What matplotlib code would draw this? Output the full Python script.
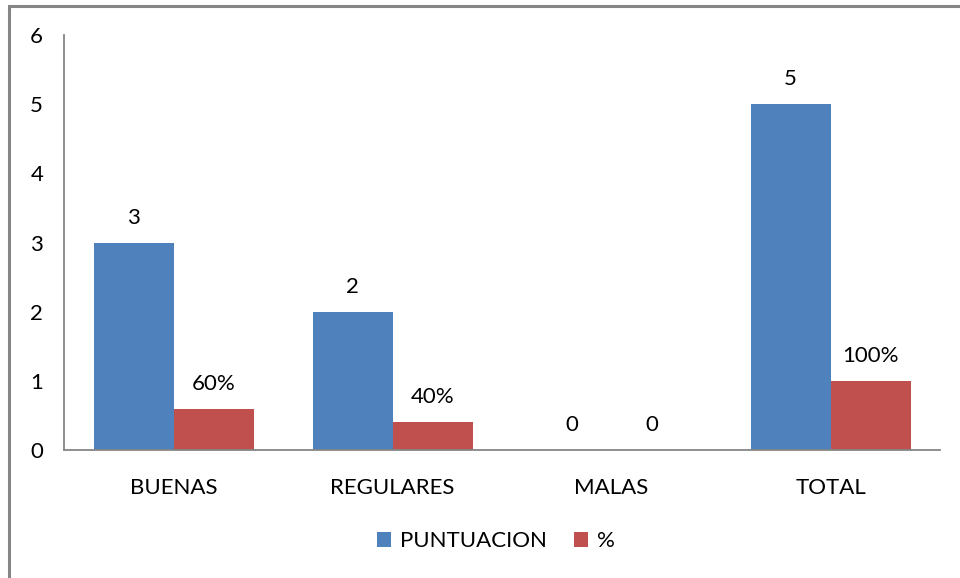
import numpy as np
import matplotlib.pyplot as plt
from matplotlib.patches import Rectangle

categorias = ['BUENAS', 'REGULARES', 'MALAS', 'TOTAL']
puntuacion = [3, 2, 0, 5]
porcentaje = [0.6, 0.4, 0, 1]
etiq_punt = ['3', '2', '0', '5']
etiq_pct = ['60%', '40%', '0', '100%']

plt.rcParams['font.family'] = ['Lato', 'DejaVu Sans']
fs = 16

fig = plt.figure(figsize=(9.6, 5.78), dpi=100)
ax = fig.add_axes([64/960, 1-450/578, 876/960, 415/578])

# marco exterior del grafico
fig.patches.append(Rectangle((9/960, -0.1), 1.2, 1 - 6/578 + 0.1, transform=fig.transFigure,
                             fill=False, edgecolor='#868686', linewidth=2.2))

x = np.arange(len(categorias))
w = 80/219
ax.bar(x - w/2, puntuacion, w, color='#4F81BD', label='PUNTUACION')
ax.bar(x + w/2, porcentaje, w, color='#C0504D', label='%')

for xi, v, t in zip(x - w/2, puntuacion, etiq_punt):
    ax.annotate(t, (xi, v), xytext=(0, 25), textcoords='offset pixels',
                ha='center', va='center', fontsize=fs)
for xi, v, t in zip(x + w/2, porcentaje, etiq_pct):
    ax.annotate(t, (xi, v), xytext=(0, 25), textcoords='offset pixels',
                ha='center', va='center', fontsize=fs)

ax.set_xlim(-0.5, 3.5)
ax.set_ylim(0, 6)
ax.set_xticks(x)
ax.set_xticklabels(categorias)
ax.set_yticks(range(7))
ax.tick_params(axis='both', length=0, labelsize=fs)
ax.tick_params(axis='x', pad=20)
ax.tick_params(axis='y', pad=15)
for s in ['top', 'right']:
    ax.spines[s].set_visible(False)
for s in ['left', 'bottom']:
    ax.spines[s].set_color('#868686')
    ax.spines[s].set_linewidth(1.3)

fig.legend(loc='center', bbox_to_anchor=(0.5 + 16/960, 1 - 541/578), ncol=2, frameon=False,
           fontsize=fs, handlelength=0.65, handleheight=0.65, handletextpad=0.4,
           columnspacing=1.2)

fig.savefig('out.png', dpi=100)
